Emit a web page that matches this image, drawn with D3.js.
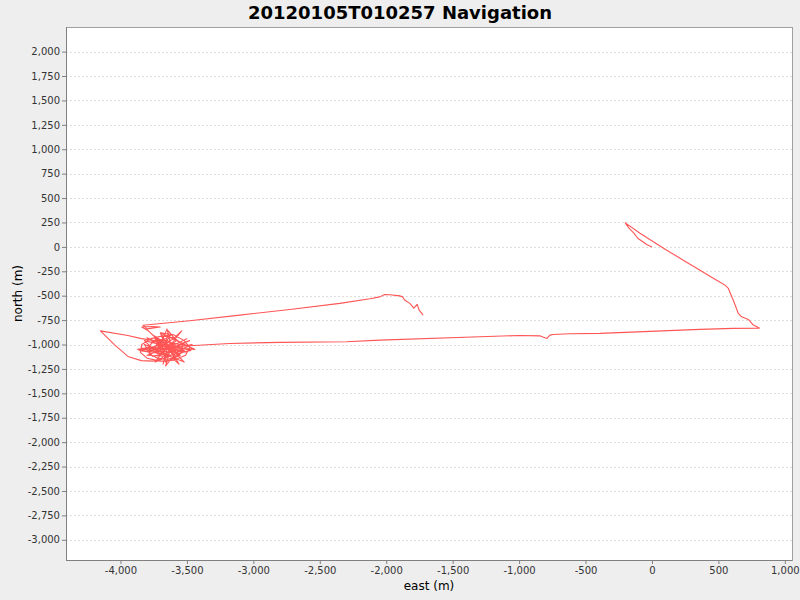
<!DOCTYPE html>
<html>
<head>
<meta charset="utf-8">
<script src="https://cdn.jsdelivr.net/npm/d3@7"></script>
<style>
html,body{margin:0;padding:0;background:#eeeeee;}
svg{display:block;}
</style>
</head>
<body>
<svg id="chart" width="800" height="600"></svg>
<script>
// Track points (east, north) in metres
const eastStart = [0, -40, -68, -105, -136, -173, -201, -90, 111, 236, 487, 550, 575, 612, 650, 675, 725, 763, 808,
  612, 361, -392, -617, -745, -768, -791, -821, -843, -994, -1295, -2048, -2299, -2801, -3178, -3479,
  -3843, -3944, -4151, -4044, -3944, -3843, -3756];
const northStart = [0, 25, 53, 86, 140, 191, 246, 140, -34, -136, -341, -392, -426, -546, -682, -716, -743, -801, -832,
  -835, -845, -886, -890, -897, -904, -938, -924, -911, -907, -921, -955, -972, -978, -989, -1013,
  -940, -907, -860, -1003, -1122, -1165, -1170];
const eastCluster = [-3700, -3640, -3560, -3480, -3600, -3700, -3820, -3760, -3640, -3560, -3620, -3700, -3660, -3500,
  -3580, -3780, -3860, -3720, -3600, -3540, -3620, -3680, -3650, -3460, -3560, -3760, -3820, -3700, -3620, -3680,
  -3590, -3520, -3620, -3800, -3700, -3520, -3600, -3740, -3660, -3840, -3700, -3580, -3640, -3660, -3470, -3660,
  -3800, -3620, -3760, -3700, -3550, -3660, -3680, -3500,
  -3680, -3650, -3700, -3740, -3720, -3660, -3610, -3590, -3630, -3690, -3760, -3800, -3780, -3720, -3640, -3570,
  -3530, -3540, -3600, -3680, -3770, -3840, -3850, -3800, -3700, -3600, -3510, -3480, -3520, -3600, -3700, -3440,
  -3620, -3660, -3580, -3870, -3700, -3650, -3620, -3720, -3560, -3640, -3760, -3690, -3610, -3530, -3670, -3740,
  -3690, -3580, -3640, -3560, -3720, -3800, -3680,
  -3680, -3790, -3840, -3760, -3700, -3800, -3830];
const northCluster = [-1150, -1080, -1000, -960, -1040, -1000, -960, -1040, -1100, -1200, -1060, -880, -1020, -1080,
  -1020, -1080, -1060, -1030, -940, -860, -1000, -1200, -1050, -1000, -1060, -1120, -1000, -1060, -900, -960,
  -1140, -1180, -1040, -930, -1020, -1040, -1100, -1180, -1040, -1040, -1100, -960, -860, -1000, -1060, -1120,
  -1110, -1020, -900, -960, -1110, -1180, -1060, -940,
  -1060, -1010, -990, -1020, -1070, -1090, -1060, -1010, -970, -950, -980, -1040, -1100, -1140, -1150, -1120,
  -1060, -990, -930, -910, -940, -1000, -1080, -1140, -1170, -1160, -1110, -1030, -960, -900, -880, -1050,
  -1030, -1220, -1080, -1050, -1010, -840, -1000, -1120, -1040, -980, -1060, -1100, -1130, -1080, -1030, -940,
  -1080, -1150, -1000, -1020, -1000, -1070, -1020,
  -1000, -860, -820, -815, -820, -840, -802];
const eastEnd = [-3479, -3102, -2726, -2349, -2123, -2048, -2011, -1973, -1898, -1877, -1860, -1822, -1792, -1767, -1752, -1722];
const northEnd = [-757, -699, -641, -579, -532, -512, -487, -491, -502, -512, -546, -579, -627, -590, -648, -699];

const yTicks = [2000, 1750, 1500, 1250, 1000, 750, 500, 250, 0, -250, -500, -750, -1000, -1250, -1500, -1750, -2000, -2250, -2500, -2750, -3000];
const xTicks = [-4000, -3500, -3000, -2500, -2000, -1500, -1000, -500, 0, 500, 1000];

const titleText = "20120105T010257 Navigation";
const xLabel = "east (m)";
const yLabel = "north (m)";

const east = eastStart.concat(eastCluster, eastEnd);
const north = northStart.concat(northCluster, northEnd);
const track = east.map((e, i) => ({e: e, n: north[i]}));

const L = 66, R = 792, T = 27, B = 560;
const svg = d3.select("#chart");
svg.append("rect").attr("width", 800).attr("height", 600).attr("fill", "#eeeeee");

const x = d3.scaleLinear().domain([-4410, 1054]).range([L, R]);
const y = d3.scaleLinear().domain([-3207, 2252]).range([B, T]);

svg.append("rect").attr("x", L).attr("y", T).attr("width", R - L).attr("height", B - T)
  .attr("fill", "#ffffff").attr("stroke", "#a0a0a0").attr("stroke-width", 1)
  .attr("shape-rendering", "crispEdges");

// gridlines
svg.append("g").selectAll("line").data(yTicks).join("line")
  .attr("x1", L).attr("x2", R)
  .attr("y1", d => Math.round(y(d)) + 0.5).attr("y2", d => Math.round(y(d)) + 0.5)
  .attr("stroke", "#dedede").attr("stroke-width", 1).attr("stroke-dasharray", "2,2");

const fmt = d => d3.format(",")(d).replace("\u2212", "-");

const yAxis = svg.append("g").attr("transform", `translate(${L},0)`)
  .call(d3.axisLeft(y).tickValues(yTicks).tickFormat(fmt).tickSize(4).tickPadding(2));
const xAxis = svg.append("g").attr("transform", `translate(0,${B})`)
  .call(d3.axisBottom(x).tickValues(xTicks).tickFormat(fmt).tickSize(4).tickPadding(3));
[yAxis, xAxis].forEach(a => {
  a.selectAll("path.domain").attr("stroke", "#808080");
  a.selectAll(".tick line").attr("stroke", "#808080");
  a.selectAll("text").attr("font-family", "DejaVu Sans").attr("font-size", 10).attr("fill", "#333333");
});
xAxis.select("path.domain").attr("d", `M${L},0.5H${R}`);
yAxis.select("path.domain").attr("d", `M0.5,${T}V${B}`);

// track
const line = d3.line().x(d => x(d.e)).y(d => y(d.n));
svg.append("path").datum(track).attr("d", line)
  .attr("fill", "none").attr("stroke", "#ff5555").attr("stroke-width", 1.1)
  .attr("stroke-linejoin", "round");

// labels
svg.append("text").attr("x", 400).attr("y", 19).attr("text-anchor", "middle")
  .attr("font-family", "DejaVu Sans").attr("font-weight", "bold").attr("font-size", 18)
  .attr("fill", "#000").text(titleText);
svg.append("text").attr("x", (L + R) / 2).attr("y", 590).attr("text-anchor", "middle")
  .attr("font-family", "DejaVu Sans").attr("font-size", 12).attr("fill", "#000").text(xLabel);
svg.append("text").attr("transform", `translate(22,${(T + B) / 2}) rotate(-90)`).attr("text-anchor", "middle")
  .attr("font-family", "DejaVu Sans").attr("font-size", 12).attr("fill", "#000").text(yLabel);
</script>
</body>
</html>
